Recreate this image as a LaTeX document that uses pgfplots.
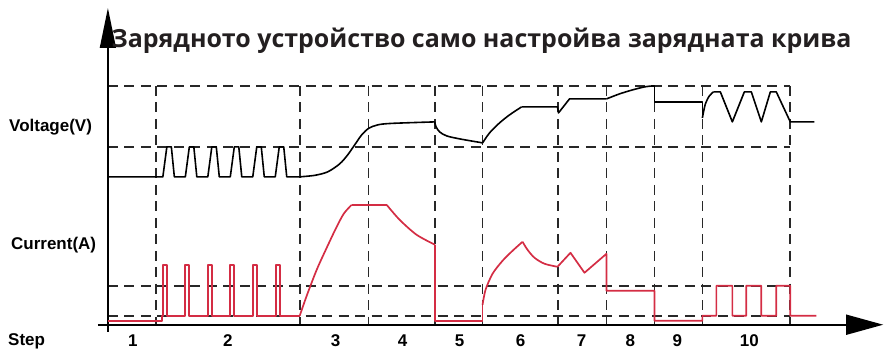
\documentclass[border=0pt]{standalone}
\usepackage{fontspec}
\usepackage{pgfplots}
\pgfplotsset{compat=1.18}
\usetikzlibrary{arrows.meta}
\newfontfamily\titlefont{Open Sans}
\newfontfamily\labfont{Liberation Sans}
\definecolor{curred}{RGB}{212,45,68}
\definecolor{dashgray}{RGB}{40,40,40}
\definecolor{titlegray}{RGB}{35,31,32}
\tikzset{lab/.style={font=\labfont\bfseries\fontsize{17}{20}\selectfont, inner sep=0pt}}
\begin{document}
\begin{tikzpicture}
\begin{axis}[
  width=884pt, height=350pt, scale only axis,
  xmin=0, xmax=884, ymin=0, ymax=350, y dir=reverse,
  hide axis, clip=false,
  dashed grid/.style={dashgray, line width=1.6pt, dash pattern=on 10pt off 6.5pt, forget plot},
  volt/.style={black, line width=1.6pt, line join=round, forget plot},
  curr/.style={curred, line width=1.7pt, line join=round, forget plot},
]
\path (axis cs:0,0) rectangle (axis cs:884,350);
% dashed horizontal guides
\addplot[dashed grid] coordinates {(108,86)(791,86)};
\addplot[dashed grid] coordinates {(108,147)(791,147)};
\addplot[dashed grid] coordinates {(108,286)(791,286)};
\addplot[dashed grid] coordinates {(108,316)(791,316)};
% dashed vertical step separators
\addplot[dashed grid] coordinates {(156,86)(156,325)};
\addplot[dashed grid] coordinates {(300,86)(300,325)};
\addplot[dashed grid] coordinates {(369,86)(369,325)};
\addplot[dashed grid] coordinates {(435.5,86)(435.5,325)};
\addplot[dashed grid] coordinates {(483,86)(483,325)};
\addplot[dashed grid] coordinates {(558.5,86)(558.5,325)};
\addplot[dashed grid] coordinates {(607,86)(607,325)};
\addplot[dashed grid] coordinates {(655,86)(655,325)};
\addplot[dashed grid] coordinates {(703,86)(703,325)};
\addplot[dashed grid] coordinates {(791,86)(791,325)};
% axes
\addplot[black, line width=1.6pt, -{Triangle[length=40pt,width=16pt]}, forget plot] coordinates {(108,332)(108,8)};
\addplot[black, line width=1.6pt, -{Triangle[length=37pt,width=20pt]}, forget plot] coordinates {(98,325)(884,325)};
% voltage curve
\addplot[volt, sharp plot] coordinates {
(108,177)(163,177)
(163,177)(167,147)(171.5,147)(174.5,177)
(185.5,177)(189.5,147)(194,147)(197,177)
(208,177)(212,147)(216.5,147)(219.5,177)
(230.5,177)(234.5,147)(239,147)(242,177)
(253,177)(257,147)(261.5,147)(264.5,177)
(275.5,177)(279.5,147)(284,147)(287,177)
(300,177)};
\addplot[volt, smooth] coordinates {(300,177)(315,175.5)(328,172)(340,164)(348,155)(355,145)(362,135)(369,128.5)(378,125)(392,123.5)(435,122)};
\addplot[volt, smooth] coordinates {(435,122)(436.5,127)(440,132)(447,136)(460,139)(483,143)};
\addplot[volt, smooth] coordinates {(483,143)(490,133)(500,123)(510,115)(522,107)};
\addplot[volt, sharp plot] coordinates {(522,107)(558,107)(559,113)(570,99)(607,99)};
\addplot[volt, smooth] coordinates {(607,99)(620,94)(633,90)(645,87)(653,86)};
\addplot[volt, sharp plot] coordinates {(653,86)(655,86)(655,102)(703,102)(703,118)};
\addplot[volt, smooth] coordinates {(703,118)(706,104)(710,96)(714,92)};
\addplot[volt, sharp plot] coordinates {(714,92)(721,92)(733,122)(745,92)(752,92)(762,122)(771,92)(777,92)(791,122)(815,122)};
% current curve
\addplot[curr, sharp plot] coordinates {
(108,321)(162,321)(162,316)(163,316)
(163,265)(167,265)(167,316)
(185,316)(185,265)(189,265)(189,316)
(208,316)(208,265)(212,265)(212,316)
(230.5,316)(230.5,265)(234.5,265)(234.5,316)
(253,316)(253,265)(257,265)(257,316)
(276,316)(276,265)(280,265)(280,316)
(300,316)};
\addplot[curr, smooth] coordinates {(300,316)(307,296)(317,270)(327,248)(336,229)(344,214)(352,205)};
\addplot[curr, sharp plot] coordinates {(352,205)(387,205)};
\addplot[curr, smooth] coordinates {(387,205)(400,220)(417,235)(435.5,245)};
\addplot[curr, sharp plot] coordinates {(435.5,245)(435.5,321)(483,321)(483,305)};
\addplot[curr, smooth] coordinates {(483,305)(486,290)(493,274)(503,261)(513,251)(523,242)};
\addplot[curr, smooth] coordinates {(523,242)(528,250)(535,258)(545,264)(558,267)};
\addplot[curr, sharp plot] coordinates {(558,267)(571,253)(585,273)(607,254)(607,291)(655,291)(655,321)(703,321)(703,316)
(717,316)(717,286)(733,286)(733,316)
(747,316)(747,286)(762,286)(762,316)
(777,316)(777,286)(791,286)(791,316)(817,316)};
% texts
\node[anchor=base, text=titlegray, font=\titlefont\bfseries\fontsize{25}{29}\selectfont, inner sep=0pt] at (axis cs:482,48) {Зарядното устройство само настройва зарядната крива};
\node[lab, anchor=base west] at (axis cs:9,132) {Voltage(V)};
\node[lab, anchor=base west] at (axis cs:11,250) {Current(A)};
\node[lab, anchor=base west] at (axis cs:8,346) {Step};
\node[lab, anchor=base] at (axis cs:133,347) {1};
\node[lab, anchor=base] at (axis cs:228,347) {2};
\node[lab, anchor=base] at (axis cs:336,347) {3};
\node[lab, anchor=base] at (axis cs:403,347) {4};
\node[lab, anchor=base] at (axis cs:460,347) {5};
\node[lab, anchor=base] at (axis cs:521,347) {6};
\node[lab, anchor=base] at (axis cs:582,347) {7};
\node[lab, anchor=base] at (axis cs:631,347) {8};
\node[lab, anchor=base] at (axis cs:678,347) {9};
\node[lab, anchor=base] at (axis cs:750,347) {10};
\end{axis}
\end{tikzpicture}
\end{document}
